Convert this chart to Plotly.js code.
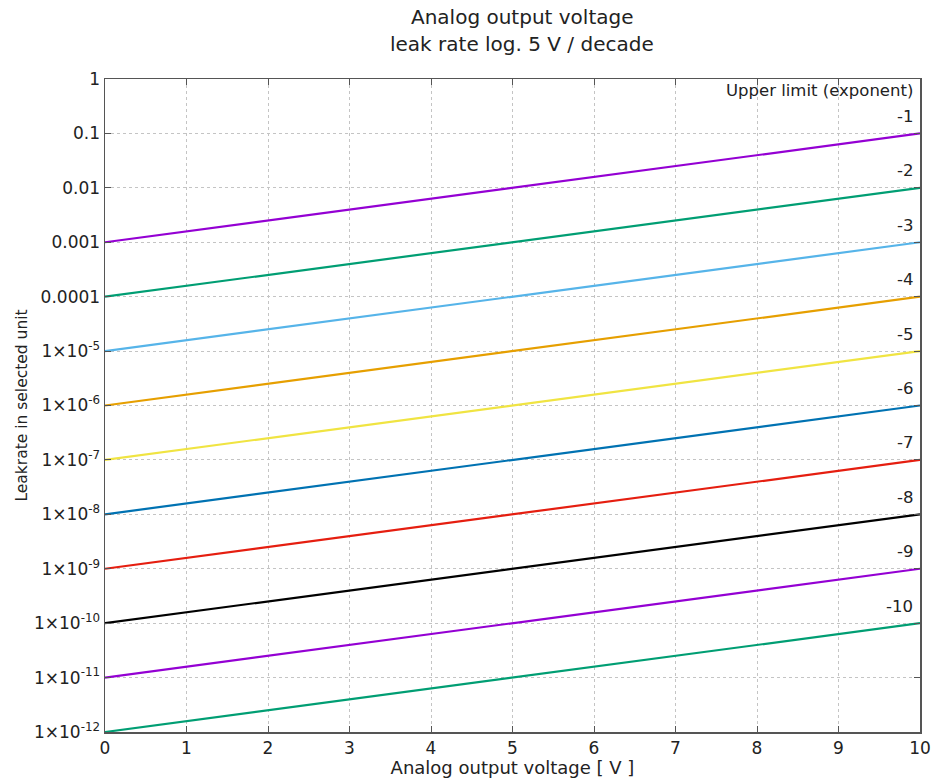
<!DOCTYPE html>
<html>
<head>
<meta charset="utf-8">
<script src="https://cdn.plot.ly/plotly-3.0.1.min.js"></script>
<style>html,body{margin:0;padding:0;background:#fff;}#chart{width:942px;height:778px;}</style>
</head>
<body>
<div id="chart"></div>
<script>
// Upper-limit exponents of each line
const exponents = [-1, -2, -3, -4, -5, -6, -7, -8, -9, -10];
// Leak rate at 0 V and at 10 V for each line
const startValues = [1e-3, 1e-4, 1e-5, 1e-6, 1e-7, 1e-8, 1e-9, 1e-10, 1e-11, 1e-12];
const endValues = [1e-1, 1e-2, 1e-3, 1e-4, 1e-5, 1e-6, 1e-7, 1e-8, 1e-9, 1e-10];
const voltage = [0, 10];
const lineColors = ['#9400d3', '#009e73', '#56b4e9', '#e69f00', '#f0e442', '#0072b2', '#e51e10', '#000000', '#9400d3', '#009e73'];
const xTicks = [0, 1, 2, 3, 4, 5, 6, 7, 8, 9, 10];
const yTickVals = [1, 0.1, 0.01, 0.001, 0.0001, 1e-5, 1e-6, 1e-7, 1e-8, 1e-9, 1e-10, 1e-11, 1e-12];
const yTickText = ['1', '0.1', '0.01', '0.001', '0.0001', '1×10<sup>-5</sup>', '1×10<sup>-6</sup>', '1×10<sup>-7</sup>',
  '1×10<sup>-8</sup>', '1×10<sup>-9</sup>', '1×10<sup>-10</sup>', '1×10<sup>-11</sup>', '1×10<sup>-12</sup>'];
const titleLines = ['Analog output voltage', 'leak rate log. 5 V / decade'];

const font = 'DejaVu Sans, Verdana, sans-serif';
const txt = '#222';
const traces = exponents.map((e, i) => ({
  x: voltage,
  y: [startValues[i], endValues[i]],
  type: 'scatter',
  mode: 'lines',
  line: {color: lineColors[i], width: 2.2},
  name: String(e),
  hoverinfo: 'skip'
}));

const annotations = exponents.map((e, i) => ({
  x: 10, y: Math.log10(endValues[i]), xref: 'x', yref: 'y',
  text: String(e), showarrow: false, xanchor: 'right', yanchor: 'middle',
  xshift: -5, yshift: 17, font: {family: font, size: 16.5, color: txt}
}));
annotations.push({
  x: 1, y: 1, xref: 'paper', yref: 'paper', text: 'Upper limit (exponent)',
  showarrow: false, xanchor: 'right', yanchor: 'middle', xshift: -5, yshift: -11,
  font: {family: font, size: 16.5, color: txt}
});
titleLines.forEach((t, i) => annotations.push({
  x: 0.512, y: 1, xref: 'paper', yref: 'paper', text: t, showarrow: false,
  xanchor: 'center', yanchor: 'middle', yshift: 62 - 27 * i,
  font: {family: font, size: 20, color: txt}
}));

const layout = {
  width: 942, height: 778,
  margin: {l: 105, r: 22, t: 79, b: 46},
  paper_bgcolor: '#fff', plot_bgcolor: '#fff',
  showlegend: false,
  font: {family: font, size: 16, color: txt},
  xaxis: {
    range: [0, 10], tickvals: xTicks, ticktext: xTicks.map(String),
    showgrid: true, gridcolor: '#c4c4c4', griddash: 'dot', gridwidth: 1,
    zeroline: false, showline: true, linecolor: '#555', linewidth: 1.5, mirror: 'ticks',
    ticks: 'inside', ticklen: 6, tickcolor: '#555',
    tickfont: {family: font, size: 17, color: txt},
    title: {text: 'Analog output voltage [ V ]', standoff: 1, font: {family: font, size: 18, color: txt}}
  },
  yaxis: {
    type: 'log', range: [-12, 0], tickvals: yTickVals, ticktext: yTickText,
    showgrid: true, gridcolor: '#c4c4c4', griddash: 'dot', gridwidth: 1,
    zeroline: false, showline: true, linecolor: '#555', linewidth: 1.5, mirror: 'ticks',
    ticks: 'inside', ticklen: 6, tickcolor: '#555',
    tickfont: {family: font, size: 17, color: txt},
    title: {text: 'Leakrate in selected unit', standoff: 2, font: {family: font, size: 15.5, color: txt}}
  },
  annotations: annotations
};

Plotly.newPlot('chart', traces, layout, {staticPlot: true, displayModeBar: false});
</script>
</body>
</html>
